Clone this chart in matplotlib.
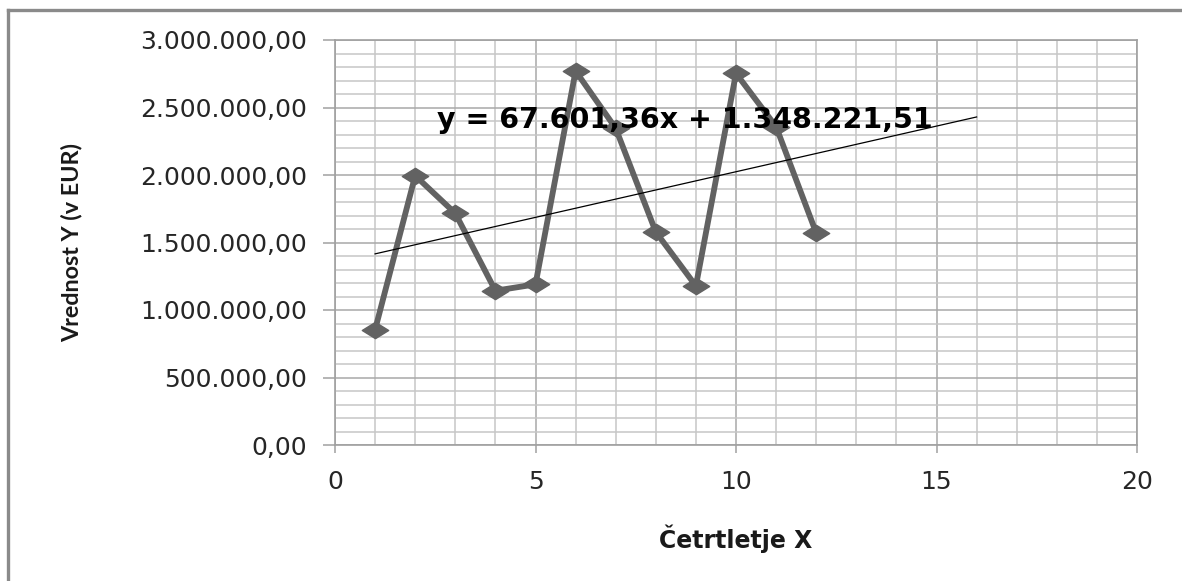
import numpy as np
import matplotlib
matplotlib.use('Agg')
import matplotlib.pyplot as plt
from matplotlib.lines import Line2D
from matplotlib.path import Path
from matplotlib.ticker import FuncFormatter, MultipleLocator

# quarterly values (EUR)
cetrtletje = [1, 2, 3, 4, 5, 6, 7, 8, 9, 10, 11, 12]
vrednost = [854000, 1995000, 1716000, 1143000, 1190000, 2770000,
            2346000, 1578000, 1178000, 2753000, 2358000, 1571000]

# linear trend, extended four quarters forward
naklon = 67601.36
presecisce = 1348221.51
trend_x = [1, 16]


def si_format(v, decimals=2):
    s = f'{v:,.{decimals}f}'
    return s.replace(',', '#').replace('.', ',').replace('#', '.')


fig = plt.figure(figsize=(11.82, 5.81), dpi=100)
W, H = 1182, 581
ax = fig.add_axes([335 / W, (H - 445) / H, 802 / W, 405 / H])

# outer chart frame (only top and left edge are visible)
frame_kw = dict(color='#8a8a8a', lw=2.4, transform=fig.transFigure)
fig.add_artist(Line2D([8 / W, 1.0], [1 - 10 / H, 1 - 10 / H], **frame_kw))
fig.add_artist(Line2D([8 / W, 8 / W], [1 - 10 / H, 0.0], **frame_kw))

ax.set_xlim(0, 20)
ax.set_ylim(0, 3000000)
ax.xaxis.set_major_locator(MultipleLocator(5))
ax.xaxis.set_minor_locator(MultipleLocator(1))
ax.yaxis.set_major_locator(MultipleLocator(500000))
ax.yaxis.set_minor_locator(MultipleLocator(100000))
ax.grid(which='major', color='#a8a8a8', lw=1.1)
ax.grid(which='minor', color='#c6c6c6', lw=1.1)
ax.set_axisbelow(True)
for sp in ax.spines.values():
    sp.set_color('#a0a0a0')
    sp.set_linewidth(1.2)

ax.yaxis.set_major_formatter(FuncFormatter(lambda v, p: si_format(v)))
ax.xaxis.set_major_formatter(FuncFormatter(lambda v, p: f'{v:.0f}'))
ax.tick_params(axis='y', which='major', length=9, width=1.1, color='#a0a0a0',
               labelsize=18, pad=11, labelcolor='#262626')
ax.tick_params(axis='x', which='major', length=6, width=1.1, color='#a0a0a0',
               labelsize=18, pad=12, labelcolor='#262626')
ax.tick_params(which='minor', length=0)
for lab in ax.get_xticklabels() + ax.get_yticklabels():
    lab.set_family('DejaVu Sans')

# data series with wide diamond markers
diamant = Path([(-1, 0), (0, 0.62), (1, 0), (0, -0.62), (-1, 0)],
               [Path.MOVETO, Path.LINETO, Path.LINETO, Path.LINETO, Path.CLOSEPOLY])
ax.plot(cetrtletje, vrednost, color='#626262', lw=4.2, marker=diamant,
        markersize=19, markerfacecolor='#626262', markeredgecolor='#626262',
        solid_joinstyle='miter', zorder=3)

# trend line
tx = np.array(trend_x, dtype=float)
ax.plot(tx, naklon * tx + presecisce, color='black', lw=0.9, zorder=4)
ax.text(2.55, 2410000, f'y = {si_format(naklon)}x + {si_format(presecisce)}',
        fontsize=20.5, fontweight='bold', family='DejaVu Sans', ha='left', va='center',
        color='black', zorder=5)

ax.set_xlabel('Četrtletje X', fontsize=17, fontweight='bold', family='DejaVu Sans',
              labelpad=22, color='#1a1a1a')
fig.text(72 / W, 1 - 243 / H, 'Vrednost Y (v EUR)', rotation=90, fontsize=16.8,
         fontweight='bold', family='Lato', ha='center', va='center', color='#1a1a1a')

fig.savefig('out.png', dpi=100)
